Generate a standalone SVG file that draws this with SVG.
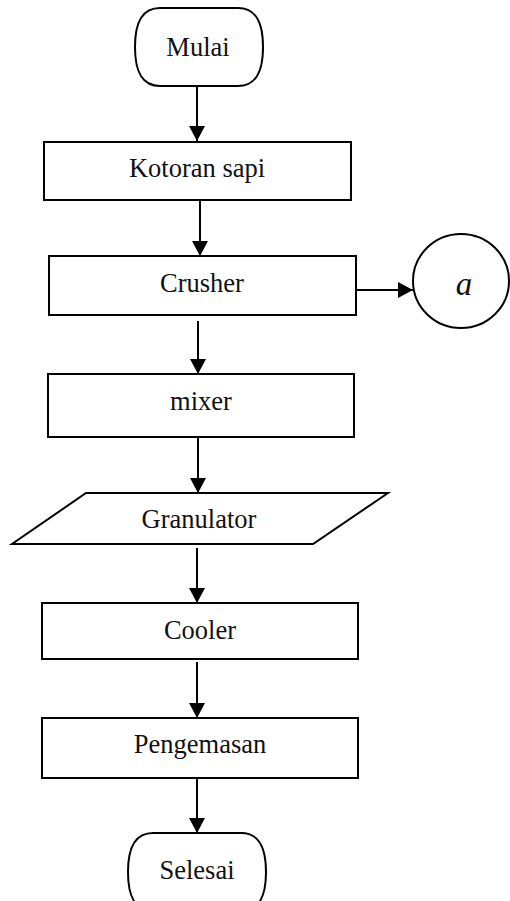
<svg xmlns="http://www.w3.org/2000/svg" width="510" height="901" viewBox="0 0 510 901">
<defs>
<style>
.shape{fill:#fff;stroke:#000;stroke-width:2}
.lbl{font-family:"Liberation Serif","Times New Roman",serif;font-size:26.5px;fill:#111;text-anchor:middle}
.conn{stroke:#000;stroke-width:2;fill:none;marker-end:url(#ah)}
</style>
<marker id="ah" markerUnits="userSpaceOnUse" markerWidth="16" markerHeight="16" refX="15" refY="8" orient="auto">
<path d="M0,0 L15,8 L0,16 z" fill="#000"/>
</marker>
</defs>
<rect width="510" height="901" fill="#fff"/>
<g id="connectors">
<line class="conn" x1="197" y1="86" x2="197" y2="141"/>
<line class="conn" x1="200" y1="200" x2="200" y2="256"/>
<line class="conn" x1="356" y1="290" x2="413" y2="290"/>
<line class="conn" x1="198" y1="321" x2="198" y2="374"/>
<line class="conn" x1="198" y1="437" x2="198" y2="493"/>
<line class="conn" x1="197" y1="548" x2="197" y2="603"/>
<line class="conn" x1="197" y1="662" x2="197" y2="718"/>
<line class="conn" x1="197" y1="778" x2="197" y2="833"/>
</g>
<g id="mulai">
<path class="shape" d="M160,8 H238 C256,8 263,22 263,47 C263,72 256,86 238,86 H160 C142,86 135,72 135,47 C135,22 142,8 160,8 Z"/>
<text class="lbl" x="198" y="56">Mulai</text>
</g>
<g id="kotoran">
<rect class="shape" x="44" y="142" width="307" height="58"/>
<text class="lbl" x="197" y="177">Kotoran sapi</text>
</g>
<g id="crusher">
<rect class="shape" x="49" y="256" width="307" height="59"/>
<text class="lbl" x="202" y="292">Crusher</text>
</g>
<g id="a">
<ellipse class="shape" cx="461" cy="281" rx="48" ry="47"/>
<text x="464" y="295" style="font-family:'Liberation Serif',serif;font-style:italic;font-size:33px;fill:#111;text-anchor:middle">a</text>
</g>
<g id="mixer">
<rect class="shape" x="48" y="374" width="306" height="63"/>
<text class="lbl" x="201" y="410">mixer</text>
</g>
<g id="granulator">
<polygon class="shape" points="86,493 388,493 313,544 12,544"/>
<text class="lbl" x="199" y="528">Granulator</text>
</g>
<g id="cooler">
<rect class="shape" x="42" y="603" width="316" height="56"/>
<text class="lbl" x="200" y="639">Cooler</text>
</g>
<g id="pengemasan">
<rect class="shape" x="42" y="718" width="316" height="60"/>
<text class="lbl" x="200" y="753">Pengemasan</text>
</g>
<g id="selesai">
<path class="shape" d="M153,833 H241 C259,833 266,847 266,872 C266,897 259,911 241,911 H153 C135,911 128,897 128,872 C128,847 135,833 153,833 Z"/>
<text class="lbl" x="197" y="879">Selesai</text>
</g>
</svg>
